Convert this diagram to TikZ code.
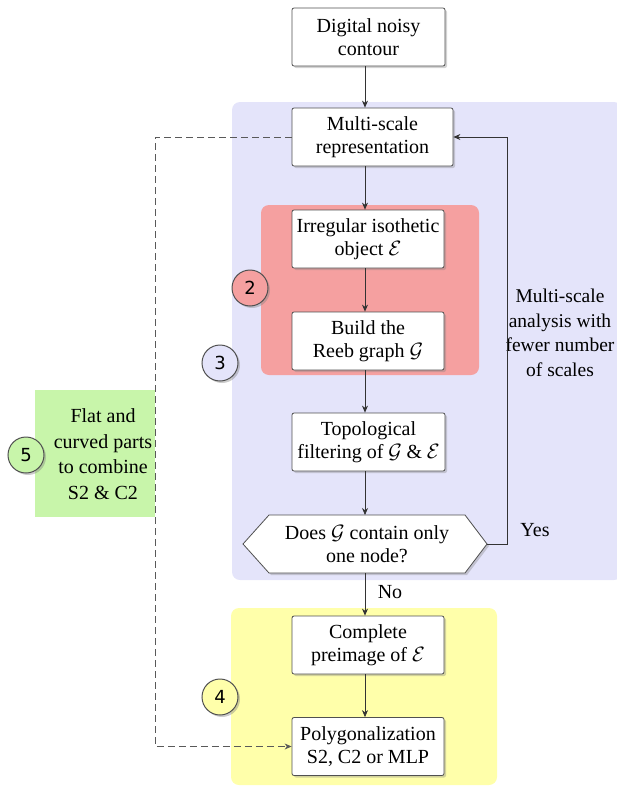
\documentclass[tikz,border=0pt]{standalone}
\usepackage{fontspec}
\setmainfont{Liberation Serif}
\newfontfamily\numfont{DejaVu Sans}
\usetikzlibrary{shadows,arrows.meta,calc}
\definecolor{regblue}{HTML}{E4E4FA}
\definecolor{regred}{HTML}{F5A0A0}
\definecolor{regyellow}{HTML}{FFFFAA}
\definecolor{reggreen}{HTML}{C8F5AA}
\definecolor{edgegray}{HTML}{505050}
\begin{document}
\begin{tikzpicture}[x=1pt,y=-1pt,
  font=\rmfamily\fontsize{20}{23}\selectfont,
  region/.style={rounded corners=8pt, draw=none},
  stepbox/.style={draw=edgegray, fill=white, rounded corners=2pt, line width=0.8pt,
    minimum width=152pt, minimum height=58pt, align=center, inner sep=1pt,
    drop shadow={opacity=0.35, shadow xshift=2pt, shadow yshift=-2pt}},
  badge/.style={circle, draw=edgegray, line width=1pt, minimum size=36pt, inner sep=0pt,
    font=\numfont\fontsize{18}{20}\selectfont,
    drop shadow={opacity=0.4, shadow xshift=2pt, shadow yshift=-2pt}},
  flow/.style={draw=black!80, line width=0.7pt, -{Stealth[length=7pt,width=6pt]}},
  dashflow/.style={draw=black!65, line width=1pt, dash pattern=on 7pt off 4pt, -{Stealth[length=7pt,width=6pt]}},
  lbl/.style={align=center, inner sep=0pt}]
\useasboundingbox (0,0) rectangle (616,787);

% regions
\fill[regblue, region] (232,102) rectangle (622,580);
\fill[regred, region] (261,205) rectangle (479,375);
\fill[regyellow, region] (231,608) rectangle (497,785);
\fill[reggreen] (35,390) rectangle (155,517);

% boxes
\node[stepbox, minimum width=153pt] (dig) at (368.5,37) {Digital noisy\\contour};
\node[stepbox, minimum width=161pt] (msr) at (372.5,137) {Multi-scale\\representation};
\node[stepbox] (iio) at (368,239) {Irregular isothetic\\object $\mathcal{E}$};
\node[stepbox] (reeb) at (368,341) {Build the\\Reeb graph $\mathcal{G}$};
\node[stepbox, minimum width=153pt] (topo) at (368.5,442) {Topological\\filtering of $\mathcal{G}\mathbin{\&}\mathcal{E}$};
\coordinate (dec) at (367,544);
\draw[draw=edgegray, fill=white, line width=0.8pt,
  drop shadow={opacity=0.35, shadow xshift=2pt, shadow yshift=-2pt}]
  ($(dec)+(-98,-29)$) -- ($(dec)+(98,-29)$) -- ($(dec)+(120,0)$) -- ($(dec)+(98,29)$)
  -- ($(dec)+(-98,29)$) -- ($(dec)+(-124,0)$) -- cycle;
\node[lbl] (dectext) at (dec) {Does $\mathcal{G}$ contain only\\one node?};
\coordinate (decE) at ($(dec)+(120,0)$);
\coordinate (decN) at ($(dec)+(0,-29)$);
\coordinate (decS) at ($(dec)+(0,29)$);
\node[stepbox] (pre) at (368,645) {Complete\\preimage of $\mathcal{E}$};
\node[stepbox] (poly) at (368,746.5) {Polygonalization\\S2, C2 or MLP};

% badges
\node[badge, fill=regred] (b2) at (250,288) {2};
\node[badge, fill=regblue] (b3) at (220,363) {3};
\node[badge, fill=regyellow] (b4) at (220,697) {4};
\node[badge, fill=reggreen] (b5) at (26,455) {5};

% texts
\node[lbl, font=\rmfamily\fontsize{19.5}{24.5}\selectfont] (msa) at (560,333) {Multi-scale\\analysis with\\fewer number\\of scales};
\node[lbl, font=\rmfamily\fontsize{20}{25.5}\selectfont] (flat) at (103,454) {Flat and\\curved parts\\to combine\\S2 \& C2};
\node[lbl] (yes) at (535,530) {Yes};
\node[lbl] (no) at (390,592) {No};

% connectors
\coordinate (x0) at (365,0);
\draw[flow] (x0 |- dig.south) -- (x0 |- msr.north);
\draw[flow] (x0 |- msr.south) -- (x0 |- iio.north);
\draw[flow] (x0 |- iio.south) -- (x0 |- reeb.north);
\draw[flow] (x0 |- reeb.south) -- (x0 |- topo.north);
\draw[flow] (x0 |- topo.south) -- (x0 |- decN);
\draw[flow] (x0 |- decS) -- (x0 |- pre.north);
\draw[flow] (x0 |- pre.south) -- (x0 |- poly.north);
\coordinate (yr) at (507,0);
\draw[flow] (decE) -- (yr |- decE) -- (yr |- msr.east) -- (msr.east);
\coordinate (dl) at (155,0);
\draw[dashflow] (msr.west) -- (dl |- msr.west) -- (dl |- poly.west) -- (poly.west);
\end{tikzpicture}
\end{document}
